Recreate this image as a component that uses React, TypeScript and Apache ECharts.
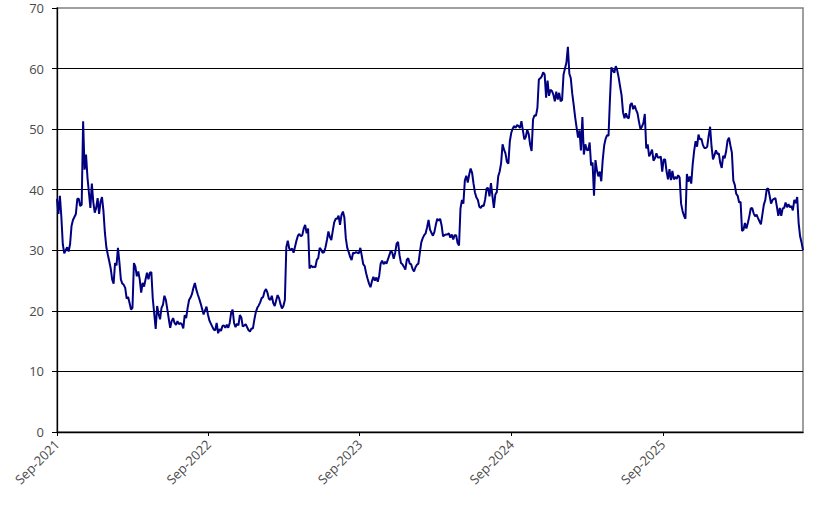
import React, { useEffect, useRef } from "react";
import * as echarts from "echarts";

// Observations every 3.5 days starting on this date
const START_DATE = "2021-09-01";
const STEP_HOURS = 84;

const values: number[] = [
  38.5, 36, 39, 35.5, 31, 29.5, 30, 30.5, 29.8, 31,
  34, 35, 35.5, 36, 38.5, 38.5, 37.3, 37.5, 51.3, 43.3,
  45.8, 42, 39.5, 37, 41, 38, 36.2, 37, 38.6, 36,
  38, 38.8, 36.5, 32.9, 30.5, 29.3, 28.2, 27, 25.2, 24.5,
  27.9, 27.5, 30.4, 28, 25.2, 24.5, 24.3, 23.8, 22, 22.3,
  21.3, 20.2, 20.5, 27.9, 27.3, 25.7, 26.5, 25.2, 23, 24.6,
  24, 25.2, 26.3, 25.2, 26.3, 26.4, 22, 19.5, 17, 20.8,
  19.5, 18.6, 20.5, 21, 22.5, 21.8, 20.3, 18.7, 17.2, 18.3,
  18.8, 18, 17.7, 18.3, 17.8, 18, 17.8, 17.1, 19.3, 18.8,
  20.5, 21.8, 22.2, 22.8, 23.8, 24.6, 23.5, 22.7, 22, 21.2,
  20.3, 19.4, 20.1, 20.7, 19.4, 18.4, 17.9, 17.4, 16.9, 16.8,
  18, 16.3, 17, 16.7, 17.5, 17.6, 17.2, 17.7, 17.2, 18,
  19.7, 20.2, 18, 17.3, 17.9, 17.6, 19.3, 18.9, 17.4, 17.6,
  17.8, 17.3, 16.8, 16.6, 17.1, 17.1, 18.6, 19.8, 20.5, 20.9,
  21.4, 22.1, 22.3, 23.2, 23.6, 23, 22, 21.8, 22.5, 21.3,
  20.8, 21.7, 22.6, 22.1, 21.1, 20.4, 20.8, 21.8, 30.5, 31.6,
  30.3, 30, 30.3, 29.6, 30.6, 31.6, 32.4, 32.7, 32.3, 32.5,
  33.6, 34.2, 32.8, 33.6, 27, 27.5, 27.2, 27.3, 27.2, 28.4,
  28.7, 30.4, 30.1, 29.6, 29.7, 30.5, 31.7, 33.1, 32.2, 31.7,
  33.2, 34.6, 35.2, 35.2, 35.7, 34.2, 35.8, 36.4, 35.4, 32,
  30.4, 29.7, 28.9, 28.4, 29.6, 29.5, 29.7, 29.6, 29.5, 30.4,
  29.1, 27.7, 27.4, 26.2, 25.3, 24.5, 23.9, 24.9, 25.6, 25,
  25.5, 24.8, 25.8, 27.8, 28.3, 27.7, 28.1, 27.8, 28.5, 29.2,
  29.9, 29.6, 28.6, 29.6, 31.1, 31.4, 29.2, 27.9, 27.7, 27.3,
  26.8, 28.4, 28.7, 27.8, 27.7, 26.9, 26.5, 27.2, 27.6, 27.8,
  29.6, 31.3, 32, 32.5, 32.8, 33.8, 35, 33.4, 32.9, 32.4,
  33, 34.2, 35.2, 34.9, 35.2, 34.1, 32.3, 32.5, 32.6, 32.6,
  32.8, 32.1, 32.6, 31.8, 32.5, 32.5, 31.2, 30.8, 36.9, 38.3,
  37.7, 41.5, 42.3, 41.2, 42.5, 43.5, 42.8, 41, 39.5, 38.7,
  38.3, 37.2, 37, 37.4, 37.3, 38.4, 40.2, 40.3, 38.9, 41.1,
  39, 37, 39.2, 39.6, 42.2, 43, 44.4, 47.5, 46.6, 46,
  44.6, 44.3, 48, 49.4, 50.1, 50.5, 50.2, 50.7, 50.5, 50.2,
  51.3, 49.8, 48.3, 48.7, 49.9, 49.2, 47.4, 46.4, 51.6, 52.3,
  52.2, 53.5, 58.2, 58.4, 58.7, 59.4, 59, 55.2, 58, 55.5,
  56.5, 56.3, 55.7, 54.6, 56.2, 54.9, 56, 54.6, 54.8, 59,
  60, 61, 63.6, 59.2, 58.4, 55.9, 54, 52, 50.3, 48.6,
  49.8, 46.5, 52, 45.8, 47.5, 46.6, 46.5, 47.8, 44, 44.5,
  39, 44.9, 43.2, 42.2, 43, 41.4, 44.9, 47.3, 48.4, 49,
  48.9, 55, 60.2, 59.7, 59.3, 60.4, 59.7, 58.5, 57, 55.6,
  52.8, 51.8, 52.6, 51.9, 51.8, 54, 54.3, 53.3, 53.9, 53.2,
  52.6, 51.2, 50, 50.4, 51, 52.5, 46.8, 47.5, 45.5, 46,
  46.6, 44.8, 45.2, 46, 45.3, 45.3, 45.5, 43, 45, 45,
  43, 41.7, 43.4, 41.6, 43.1, 41.7, 42.1, 41.8, 42.4, 42,
  37.7, 36.5, 35.7, 35.2, 42.6, 41.3, 42.2, 41, 44.2, 46.4,
  48, 47.1, 49.1, 48.3, 48.4, 47.4, 46.9, 46.9, 47.1, 48.9,
  50.4, 47.1, 45, 45.7, 46.5, 45.9, 46, 44.4, 43.6, 45.6,
  45.2, 46.3, 48.1, 48.6, 47.3, 46.1, 41.5, 40.8, 39.3, 39,
  37.9, 38, 33.2, 33.4, 34.5, 33.6, 34.5, 35.6, 36.9, 37,
  36.1, 35.6, 35.9, 35.3, 34.8, 34.3, 35.9, 37.5, 38.3, 40.1,
  40.2, 39, 37.7, 38.3, 38.5, 38.6, 37.2, 35.7, 37, 35.7,
  36.9, 37, 37.9, 37.1, 37.6, 37.1, 37.3, 36.6, 38.3, 37.8,
  38.8, 34.5, 32.3, 31.3, 30,
];

const tickDates = ["2021-09-01", "2022-09-01", "2023-09-01", "2024-09-01", "2025-09-01"];
const tickLabels = ["Sep-2021", "Sep-2022", "Sep-2023", "Sep-2024", "Sep-2025"];

const Y_MIN = 0;
const Y_MAX = 70;
const Y_STEP = 10;

const toTs = (d: string) => Date.parse(d + "T00:00:00Z");

export default function App() {
  const ref = useRef<HTMLDivElement>(null);

  useEffect(() => {
    document.body.style.margin = "0";
    if (!ref.current) return;
    const chart = echarts.init(ref.current, null, { renderer: "svg" });
    const start = toTs(START_DATE);
    const hourMs = 3600 * 1000;
    const dayMs = 24 * hourMs;
    const data = values.map((v, i) => [start + i * STEP_HOURS * hourMs, v]);
    const tickTs = tickDates.map(toTs);
    const labelOf = (v: number) => {
      const idx = tickTs.findIndex((t) => Math.abs(t - v) < dayMs);
      return idx >= 0 ? tickLabels[idx] : "";
    };

    chart.setOption({
      animation: false,
      backgroundColor: "#ffffff",
      textStyle: { fontFamily: "Open Sans" },
      grid: {
        left: 57,
        right: 24,
        top: 8,
        bottom: 79,
        show: true,
        borderColor: "#808080",
        borderWidth: 1.5,
      },
      xAxis: {
        type: "value",
        min: start,
        max: data[data.length - 1][0],
        scale: true,
        axisLine: { show: true, onZero: false, lineStyle: { color: "#000000", width: 1.3 } },
        axisTick: {
          show: true,
          length: 4,
          lineStyle: { color: "#000000", width: 1 },
          customValues: tickTs,
        },
        axisLabel: {
          customValues: tickTs,
          rotate: 45,
          margin: 10,
          color: "#4a4a4a",
          fontSize: 13,
          fontFamily: "Open Sans",
          formatter: (v: number) => labelOf(v),
        },
        splitLine: { show: false },
      },
      yAxis: {
        type: "value",
        min: Y_MIN,
        max: Y_MAX,
        interval: Y_STEP,
        axisLine: { show: true, lineStyle: { color: "#000000", width: 1.3 } },
        axisTick: { show: true, length: 5, lineStyle: { color: "#000000" } },
        axisLabel: {
          margin: 13,
          color: "#4a4a4a",
          fontSize: 13,
          fontFamily: "Open Sans",
        },
        splitLine: {
          show: true,
          showMinLine: false,
          showMaxLine: false,
          lineStyle: { color: "#000000", width: 1 },
        },
      },
      series: [
        {
          type: "line",
          data,
          showSymbol: false,
          symbol: "none",
          lineStyle: { color: "#000080", width: 2 },
          itemStyle: { color: "#000080" },
        },
      ],
    });
    return () => chart.dispose();
  }, []);

  return <div ref={ref} style={{ width: 827, height: 511 }} />;
}
